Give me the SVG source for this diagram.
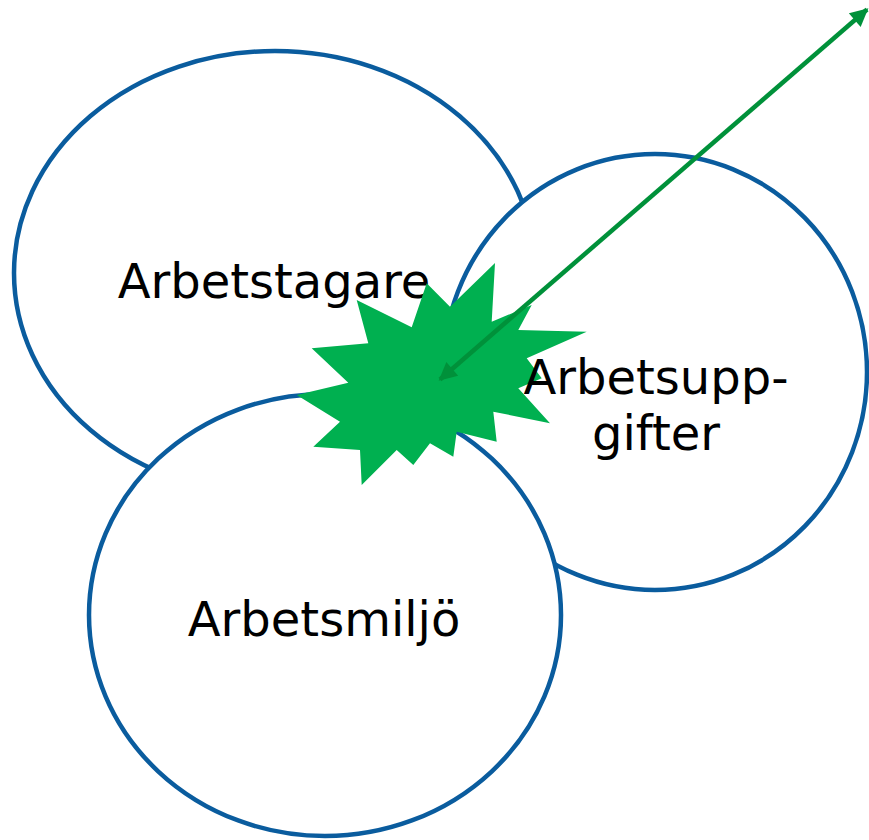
<svg xmlns="http://www.w3.org/2000/svg" width="869" height="840" viewBox="0 0 869 840">
  <style>
    .circ { fill: #ffffff; stroke: #0A5C9E; stroke-width: 4.5; }
    .lbl { font-family: "DejaVu Sans", Verdana, sans-serif; font-size: 48px; fill: #000000; text-anchor: middle; }
    .star { fill: #00B050; }
    .conn { stroke: #00913A; stroke-width: 4.5; fill: none; marker-start: url(#ah); marker-end: url(#ah); }
  </style>
  <defs>
    <marker id="ah" viewBox="0 0 10 10" refX="9" refY="5" markerWidth="4.5" markerHeight="4" orient="auto-start-reverse" markerUnits="strokeWidth">
      <path d="M0,0 L10,5 L0,10 z" fill="#00913A"/>
    </marker>
  </defs>
  <rect width="869" height="840" fill="#ffffff"/>
  <g id="node-arbetstagare">
    <ellipse class="circ" cx="275" cy="273" rx="261" ry="222"/>
  </g>
  <g id="node-arbetsuppgifter">
    <ellipse class="circ" cx="655" cy="372" rx="212" ry="218"/>
  </g>
  <g id="node-arbetsmiljo">
    <ellipse class="circ" cx="325" cy="615" rx="236" ry="221"/>
  </g>
  <text class="lbl" x="274" y="298">Arbetstagare</text>
  <text class="lbl" x="324" y="636">Arbetsmiljö</text>
  <g id="node-konflikt">
    <polygon class="star" points="495,263 491.7,321.7 531.7,305 518.3,330 586.7,331.7 526.7,358.3 541.7,378.3 518.3,388.3 550,423.3 493.3,411.7 496.7,441.7 456.7,431.7 453.3,456.7 430,443.3 413.3,465 396.7,450 361.7,485 360,450 313.3,446.7 340,421.7 296.7,395 348.3,382.7 311.7,348.3 368.3,343.3 356.7,300 411.7,327.3 426.7,283.3 450,306.7"/>
  </g>
  <text class="lbl" x="656" y="394">Arbetsupp-</text>
  <text class="lbl" x="656" y="450">gifter</text>
  <g id="connectors">
    <line class="conn" x1="440" y1="379.5" x2="867" y2="9.5"/>
  </g>
</svg>
